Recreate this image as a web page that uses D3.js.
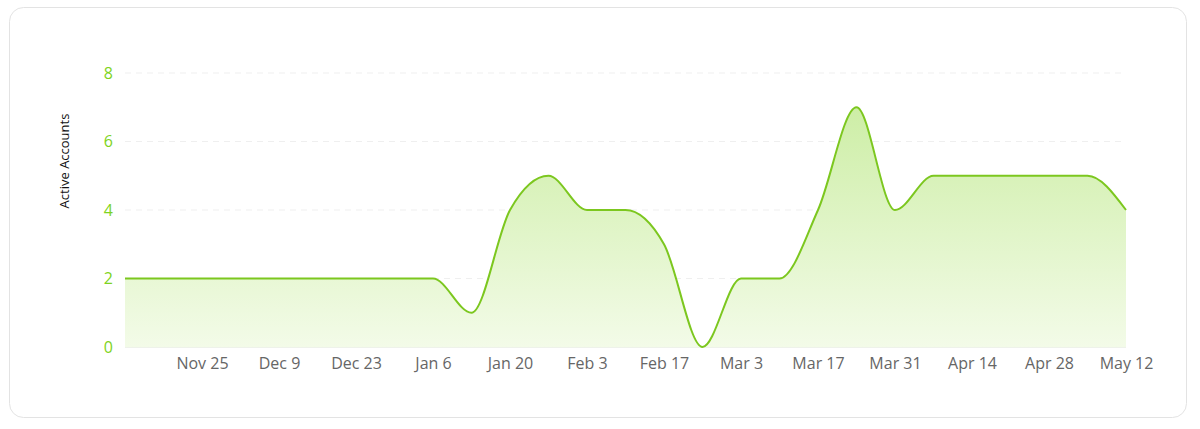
<!DOCTYPE html>
<html><head><meta charset="utf-8">
<script src="https://cdn.jsdelivr.net/npm/d3@7"></script>
<style>
html,body{margin:0;padding:0;background:#fff;}
svg{display:block;font-family:"Open Sans","Noto Sans",sans-serif;}
</style></head>
<body><svg id="c" width="1200" height="429"></svg>
<script>
const startDate = "2024-11-11";
const values = [2,2,2,2,2,2,2,2,2,1,4,5,4,4,3,0,2,2,4,7,4,5,5,5,5,5,4];
const yTicks = [0,2,4,6,8];
const xTickLabels = ["Nov 25","Dec 9","Dec 23","Jan 6","Jan 20","Feb 3","Feb 17","Mar 3","Mar 17","Mar 31","Apr 14","Apr 28","May 12"];
const yTitle = "Active Accounts";

const parse = d3.timeParse("%Y-%m-%d");
const t0 = parse(startDate);
const data = values.map((v,i)=>({date: d3.timeDay.offset(t0, 7*i), value: v}));

const svg = d3.select("#c");
svg.append("rect").attr("x",9.5).attr("y",7.5).attr("width",1177).attr("height",410)
  .attr("rx",14).attr("fill","#fff").attr("stroke","#e3e3e3");

const x = d3.scaleTime().domain(d3.extent(data,d=>d.date)).range([125,1126]);
const y = d3.scaleLinear().domain([0,8]).range([347,73]);

const defs = svg.append("defs");
const g = defs.append("linearGradient").attr("id","fillg").attr("x1",0).attr("x2",0)
  .attr("gradientUnits","userSpaceOnUse").attr("y1",y(7)).attr("y2",y(0));
g.append("stop").attr("offset","0%").attr("stop-color","#cdeea6");
g.append("stop").attr("offset","100%").attr("stop-color","#f3fbe8");

// grid
svg.append("g").selectAll("line").data(yTicks.filter(d=>d>0)).join("line")
  .attr("x1",125).attr("x2",1126).attr("y1",d=>y(d)).attr("y2",d=>y(d))
  .attr("stroke","#efefef").attr("stroke-dasharray","6,5");

const area = d3.area().x(d=>x(d.date)).y0(y(0)).y1(d=>y(d.value)).curve(d3.curveMonotoneX);
const line = d3.line().x(d=>x(d.date)).y(d=>y(d.value)).curve(d3.curveMonotoneX);
svg.append("path").datum(data).attr("d",area).attr("fill","url(#fillg)");
svg.append("line").attr("x1",125).attr("x2",1126).attr("y1",y(0)+0.5).attr("y2",y(0)+0.5).attr("stroke","#eef2ea");
svg.append("path").datum(data).attr("d",line).attr("fill","none").attr("stroke","#7cc71f").attr("stroke-width",2);

// y axis
const yAxis = d3.axisLeft(y).tickValues(yTicks).tickSize(0).tickPadding(0);
const ya = svg.append("g").attr("transform","translate(113,0)").call(yAxis);
ya.select(".domain").remove();
ya.selectAll("text").attr("fill","#7ed321").attr("font-size",16).attr("font-family","'Open Sans','Noto Sans',sans-serif");

// x axis
const tickDates = xTickLabels.map((l,i)=>d3.timeDay.offset(t0, 14*(i+1)));
const xAxis = d3.axisBottom(x).tickValues(tickDates).tickSize(0).tickPadding(0)
  .tickFormat((d,i)=>xTickLabels[i]);
const xa = svg.append("g").attr("transform","translate(0,358)").call(xAxis);
xa.select(".domain").remove();
xa.selectAll("text").attr("fill","#666").attr("font-size",16).attr("font-family","'Open Sans','Noto Sans',sans-serif");

svg.append("text").attr("transform","translate(69,161) rotate(-90)").attr("text-anchor","middle")
  .attr("font-size",13).attr("fill","#111").text(yTitle);
</script></body></html>
